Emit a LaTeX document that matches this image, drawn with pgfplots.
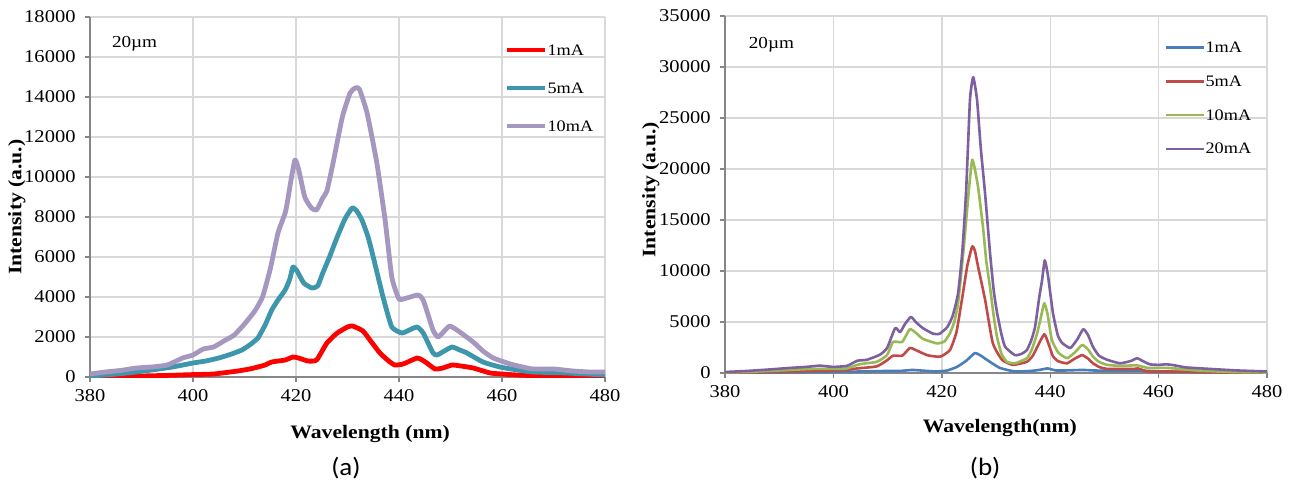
\documentclass[border=0pt]{standalone}
\usepackage{pgfplots}
\pgfplotsset{compat=1.18}
\usepackage{fontspec}
\setmainfont{Liberation Serif}[FakeStretch=1.14]
\newfontfamily\capfont{Carlito}[FakeStretch=1.08]
\definecolor{cRedA}{RGB}{255,0,0}
\definecolor{cTeal}{RGB}{62,150,172}
\definecolor{cLav}{RGB}{165,151,191}
\definecolor{cBlue}{RGB}{74,126,187}
\definecolor{cRedB}{RGB}{190,75,72}
\definecolor{cGreen}{RGB}{152,185,84}
\definecolor{cPurp}{RGB}{125,96,160}
\definecolor{gridc}{RGB}{217,217,217}
\definecolor{axc}{RGB}{134,134,134}
\pgfplotsset{
  common/.style={
    scale only axis,
    xmin=380, xmax=480,
    xtick={380,400,...,480},
    scaled y ticks=false, scaled x ticks=false,
    axis x line*=bottom, axis y line*=left,
    axis line style={-, draw=axc, line width=0.8pt},
    grid=major,
    major grid style={draw=gridc, line width=0.7pt},
    tick align=outside,
    major tick length=2.5pt,
    tick style={draw=axc, line width=0.7pt},
    tick label style={font=\fontsize{9}{10}\selectfont},
    yticklabel style={xshift=-1.2pt},
    /pgf/number format/.cd, set thousands separator={}, assume math mode=true, /pgfplots/.cd,
    label style={font=\fontsize{9.5}{11}\selectfont\bfseries},
    legend cell align=left,
    legend image code/.code={\draw[##1] (0pt,0pt) -- (19pt,0pt);},
    clip mode=individual,
  }
}
\begin{document}
\begin{tikzpicture}
\useasboundingbox (0,0) rectangle (646pt,247pt);
% ---------------- (a) ----------------
\begin{axis}[common,
  at={(45pt,58.5pt)}, anchor=south west,
  width=257.5pt, height=180pt,
  ymin=0, ymax=18000, ytick={0,2000,...,18000},
  xlabel={Wavelength (nm)}, ylabel={Intensity (a.u.)},
  xlabel style={at={(axis description cs:0.544,-0.158)}, anchor=center},
  ylabel style={at={(axis description cs:-0.142,0.472)}, anchor=center, rotate=0},
  legend style={at={(axis description cs:0.793,0.94)}, anchor=north west, draw=none, fill=none,
    font=\fontsize{8}{10}\selectfont, row sep=12pt,
    nodes={inner sep=0pt, text height=6pt, text depth=1pt},
    /tikz/every even column/.append style={column sep=1.5pt}},
]
\addplot[cRedA, line width=2.4pt, line join=round, smooth, tension=0.3] coordinates {
(380,0) (385,20) (390,50) (395,80) (400,120) (404,150) (408.7,300) (411,400) (412.6,500) (414,600) (415.3,750) (417.9,850) (419.4,1000) (420.5,950) (422.3,800) (424,850) (426,1700) (428,2200) (430,2500) (431,2550) (433,2300) (434.5,1800) (436.3,1200) (438,800) (439.2,600) (440.8,650) (443.5,950) (444.5,850) (445.4,700) (447,400) (448.5,450) (450.3,600) (452,550) (454.4,450) (457.7,200) (460,150) (462.9,100) (468,50) (472,50) (476,20) (480,0)
};
\addlegendentry{1mA}
\addplot[cTeal, line width=2.4pt, line join=round, smooth, tension=0.3] coordinates {
(380,50) (384,120) (388,220) (392,350) (396,500) (400,700) (402.5,800) (405,950) (407.5,1150) (409.5,1350) (411,1600) (412.6,1950) (414,2600) (415.3,3350) (416.5,3850) (417.9,4350) (418.8,4900) (419.4,5500) (420.2,5300) (421.5,4700) (423.1,4450) (424.2,4550) (425.2,5200) (426.5,6000) (428,7000) (429.5,7900) (430.9,8450) (431.8,8300) (432.8,7850) (434,7000) (435,6000) (436.9,4000) (438.6,2500) (440.6,2200) (442,2350) (443.5,2500) (444.7,2200) (446.6,1200) (447.4,1100) (448.8,1300) (450.3,1500) (451.8,1350) (453.2,1200) (456.3,750) (459.6,500) (463,350) (466,250) (470,220) (472.6,200) (476,150) (480,100)
};
\addlegendentry{5mA}
\addplot[cLav, line width=2.4pt, line join=round, smooth, tension=0.3] coordinates {
(380,150) (383,250) (386,330) (389,450) (392,500) (395,600) (398,950) (400,1100) (402,1400) (404,1500) (406,1800) (408,2100) (410,2650) (412,3300) (413.5,4000) (415,5400) (416.5,7200) (418,8300) (419,9800) (419.8,10850) (420.5,10400) (421.7,9000) (423,8450) (424,8350) (425.2,8950) (426,9300) (427.2,10700) (429,13000) (430.5,14200) (431.5,14450) (432.3,14400) (433.8,13200) (435.7,10700) (437.3,7850) (438.6,5000) (440,3900) (441.5,3950) (443.7,4100) (444.7,3850) (446.6,2350) (447.6,2000) (448.8,2300) (449.9,2550) (451.8,2250) (454.4,1750) (456.3,1300) (458.3,950) (461.6,650) (464,500) (466,400) (470,400) (473.8,300) (477,250) (480,250)
};
\addlegendentry{10mA}
\node[anchor=west, font=\fontsize{8.4}{10}\selectfont] at (axis description cs:0.029,0.925) {20µm};
\node[anchor=center, font=\fontsize{12.5}{14}\selectfont\capfont] at (axis description cs:0.497,-0.252) {(a)};
\end{axis}
% ---------------- (b) ----------------
\begin{axis}[common,
  at={(362.5pt,60.5pt)}, anchor=south west,
  width=271pt, height=178.5pt,
  ymin=0, ymax=35000, ytick={0,5000,...,35000},
  xlabel={Wavelength(nm)}, ylabel={Intensity (a.u.)},
  xlabel style={at={(axis description cs:0.507,-0.154)}, anchor=center},
  ylabel style={at={(axis description cs:-0.137,0.513)}, anchor=center, rotate=0},
  legend style={at={(axis description cs:0.80,0.943)}, anchor=north west, draw=none, fill=none,
    font=\fontsize{8}{10}\selectfont, row sep=9.85pt,
    nodes={inner sep=0pt, text height=6pt, text depth=1pt},
    /tikz/every even column/.append style={column sep=1.5pt}},
]
\addplot[cBlue, line width=1.3pt, line join=round, smooth, tension=0.3] coordinates {
(380,30) (390,60) (400,100) (405,150) (410,200) (412.3,200) (414.5,300) (416,250) (419,150) (421,250) (422.8,600) (424.5,1200) (426.1,1950) (427.2,1700) (428.3,1300) (430.7,500) (433.5,150) (436.3,200) (438,300) (439.5,450) (441,250) (443,250) (446,300) (448,250) (452,200) (456,250) (460,150) (466,100) (472,80) (480,50)
};
\addlegendentry{1mA}
\addplot[cRedB, line width=1.3pt, line join=round, smooth, tension=0.3] coordinates {
(380,30) (385,60) (390,100) (395,180) (400,250) (402.5,300) (404.4,450) (408,650) (409.9,1250) (411,1700) (412.7,1700) (414.1,2450) (415,2300) (417.3,1750) (419.7,1600) (421.5,2250) (422.7,4000) (423.7,7150) (424.7,10500) (425.6,12400) (426.1,12000) (426.7,10400) (428,7150) (429.4,2950) (431.1,1300) (433.1,800) (435.7,1100) (436.8,1700) (437.6,2550) (438.9,3800) (439.6,3000) (440.5,1650) (441.5,1150) (443.1,950) (444.5,1400) (445.9,1750) (447,1400) (447.9,950) (449,600) (450.5,400) (455.4,400) (456.2,450) (458,150) (462,150) (466,100) (472,50) (480,30)
};
\addlegendentry{5mA}
\addplot[cGreen, line width=1.3pt, line join=round, smooth, tension=0.3] coordinates {
(380,50) (384,100) (388,200) (392,300) (396,400) (400,400) (402.5,450) (404.4,800) (406,950) (408,1100) (409.9,1750) (411,3050) (412.7,3050) (414.1,4300) (415.3,3900) (416.5,3350) (419.1,2900) (420.5,3100) (421.5,3900) (422.3,5000) (423,6850) (424,12000) (425,18000) (425.6,20900) (426.1,20000) (426.7,18200) (427.6,14300) (428.2,11000) (428.9,8400) (429.6,5500) (430.2,3500) (431,1900) (432,1100) (433.5,950) (435.7,1450) (436.6,2300) (437.6,3900) (438.3,5500) (438.9,6850) (439.5,5800) (440.3,3250) (441.5,2000) (443.1,1450) (444.5,2000) (445.9,2750) (447,2300) (447.9,1600) (449,1100) (450.5,800) (453,700) (456,750) (458,500) (461.5,500) (464,400) (467,250) (473,100) (480,50)
};
\addlegendentry{10mA}
\addplot[cPurp, line width=1.3pt, line join=round, smooth, tension=0.3] coordinates {
(380,100) (384,200) (388.3,350) (392,500) (395,600) (397.5,720) (399.9,600) (402.5,700) (404.4,1200) (406.2,1300) (408.6,1800) (409.9,2450) (411.4,4400) (412.3,4000) (413.2,4800) (414.3,5500) (415.2,5000) (416.5,4400) (418.4,3850) (419.6,3850) (421,4500) (422,5600) (423,7800) (423.8,12000) (424.5,18000) (425.2,26800) (425.8,29000) (426.5,26800) (427.2,22000) (428,17500) (428.9,11750) (429.6,8000) (430.2,5900) (431,3800) (431.7,2550) (433.5,1750) (434.8,1900) (435.7,2250) (436.5,3200) (437.2,4500) (438,7500) (438.5,9100) (439,11050) (439.6,9500) (440.5,5900) (441.4,3700) (442.2,2950) (443.7,2450) (445,3300) (446.1,4300) (447,3700) (447.9,2550) (449,1700) (450.5,1300) (452.9,950) (455,1200) (456,1450) (457,1200) (458.4,850) (460,800) (461.5,850) (463,750) (465,550) (469.5,400) (474.5,250) (480,150)
};
\addlegendentry{20mA}
\node[anchor=west, font=\fontsize{8.4}{10}\selectfont] at (axis description cs:0.031,0.919) {20µm};
\node[anchor=center, font=\fontsize{12.5}{14}\selectfont\capfont] at (axis description cs:0.48,-0.265) {(b)};
\end{axis}
\end{tikzpicture}
\end{document}
